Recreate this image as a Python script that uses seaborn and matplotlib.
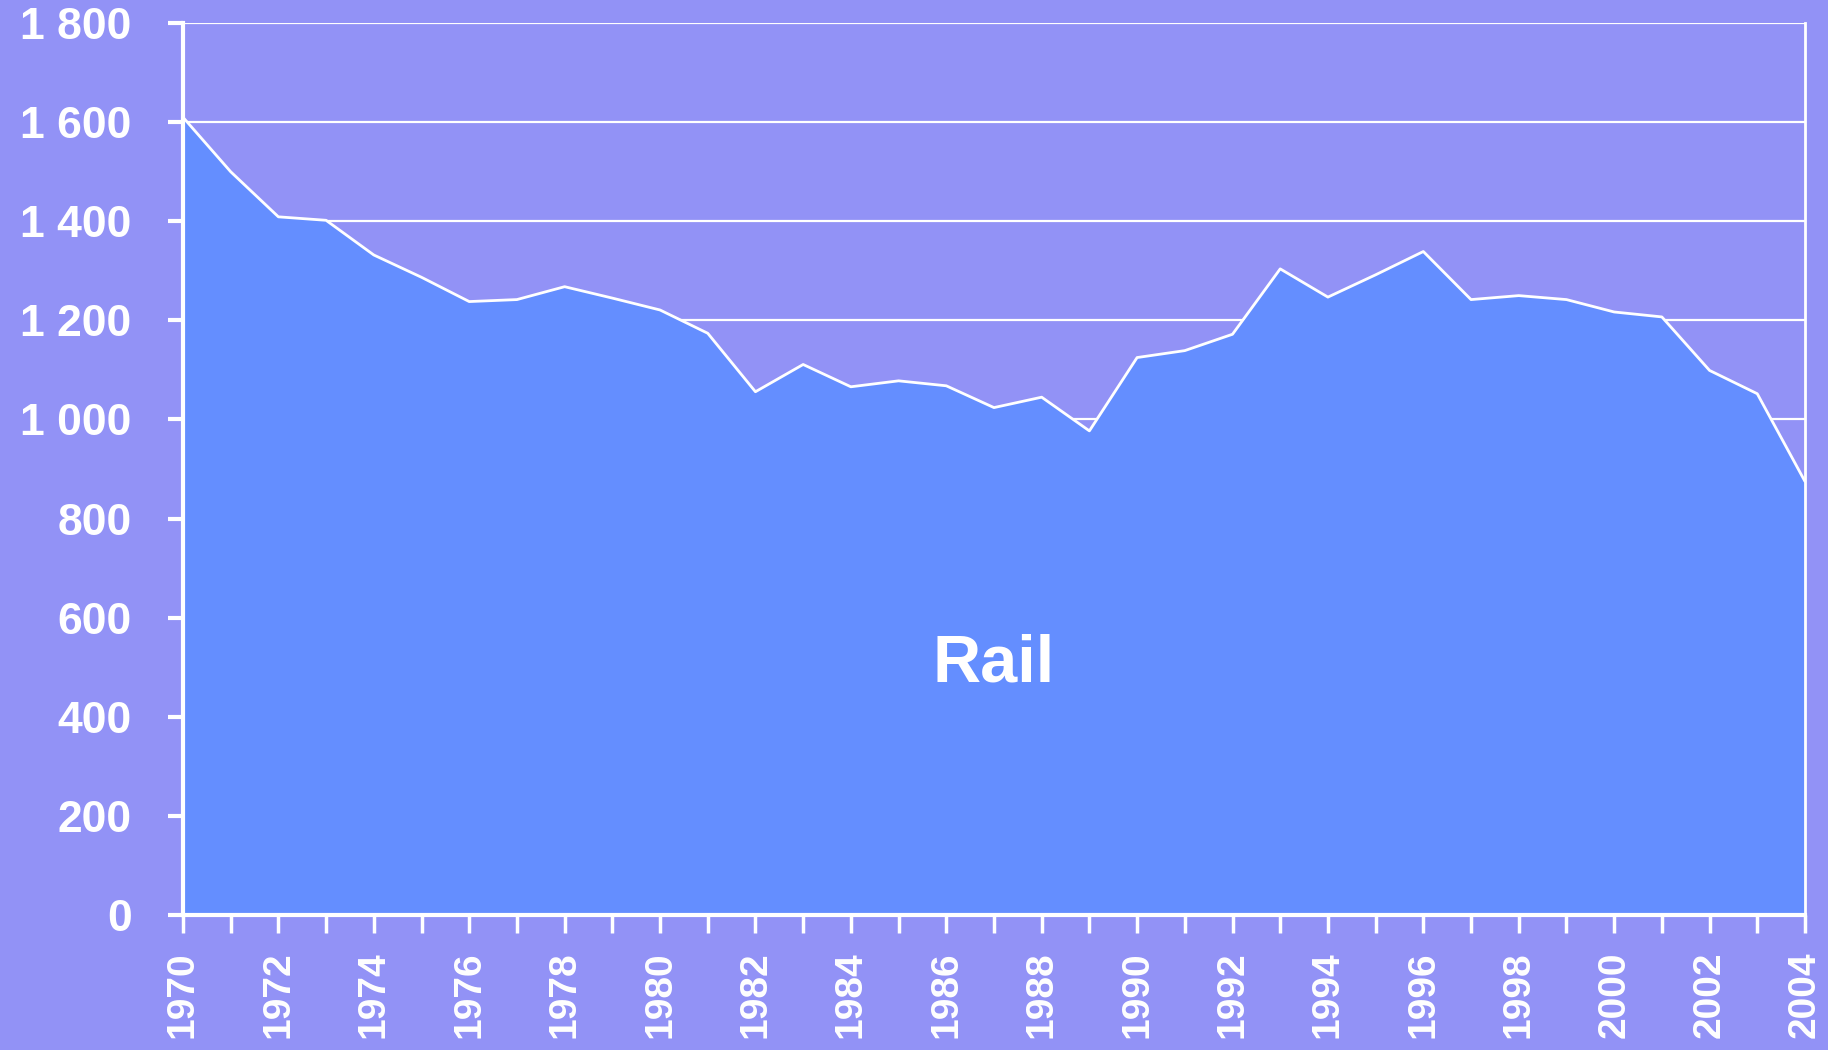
import numpy as np
import pandas as pd
import seaborn as sns
import matplotlib.pyplot as plt
from matplotlib.ticker import FuncFormatter, MultipleLocator

# rail values
years = list(range(1970, 2005))
rail = [1610, 1500, 1409, 1402, 1332, 1287, 1238, 1242, 1268, 1245,
        1221, 1174, 1056, 1111, 1066, 1078, 1068, 1024, 1045, 977,
        1125, 1139, 1172, 1304, 1247, 1292, 1339, 1242, 1250, 1242,
        1217, 1207, 1099, 1052, 875]
y_ticks = [0, 200, 400, 600, 800, 1000, 1200, 1400, 1600, 1800]
series_label = "Rail"

BG = "#9292f6"
FILL = "#648eff"


def space_thousands(x, _):
    """Format ticks as '1 800' with a space for thousands."""
    return f"{int(x):,}".replace(",", " ")


sns.set_style("white")
plt.rcParams['font.family'] = ['Liberation Sans', 'DejaVu Sans']

df = pd.DataFrame({'year': years, 'rail': rail})

fig = plt.figure(figsize=(18.28, 10.5), dpi=100, facecolor=BG)
ax = fig.add_axes([0.1001, 0.1286, 0.8873, 0.8494])
ax.set_facecolor(BG)

ax.fill_between(df['year'], 0, df['rail'], color=FILL, zorder=2, lw=0)
sns.lineplot(data=df, x='year', y='rail', ax=ax, color='white', lw=2, zorder=3)

ax.set_xlim(1970, 2004)
ax.set_ylim(0, 1800)
ax.set_yticks(y_ticks)
ax.yaxis.set_major_formatter(FuncFormatter(space_thousands))
ax.xaxis.set_major_locator(MultipleLocator(2))
ax.xaxis.set_minor_locator(MultipleLocator(1))

ax.set_axisbelow(True)
ax.yaxis.grid(True, color='white', lw=1.6, zorder=1)
ax.xaxis.grid(False)

for side in ['left', 'bottom', 'right']:
    ax.spines[side].set_visible(True)
    ax.spines[side].set_color('white')
ax.spines['left'].set_linewidth(3)
ax.spines['bottom'].set_linewidth(3)
ax.spines['right'].set_linewidth(2)
ax.spines['top'].set_visible(False)

ax.tick_params(axis='y', which='major', direction='out', length=11, width=3,
               color='white', labelcolor='white', labelsize=32, pad=26, left=True)
ax.tick_params(axis='x', which='both', direction='out', length=13, width=2.5,
               color='white', bottom=True)
ax.tick_params(axis='x', which='major', labelcolor='white', labelsize=28,
               pad=13, labelrotation=90)
for lab in ax.get_yticklabels() + ax.get_xticklabels():
    lab.set_fontweight('bold')

ax.set_xlabel('')
ax.set_ylabel('')

ax.text(1987.0, 506, series_label, color='white', fontsize=48, fontweight='bold',
        ha='center', va='center', zorder=4)

fig.savefig('out.png', dpi=100, facecolor=BG)
